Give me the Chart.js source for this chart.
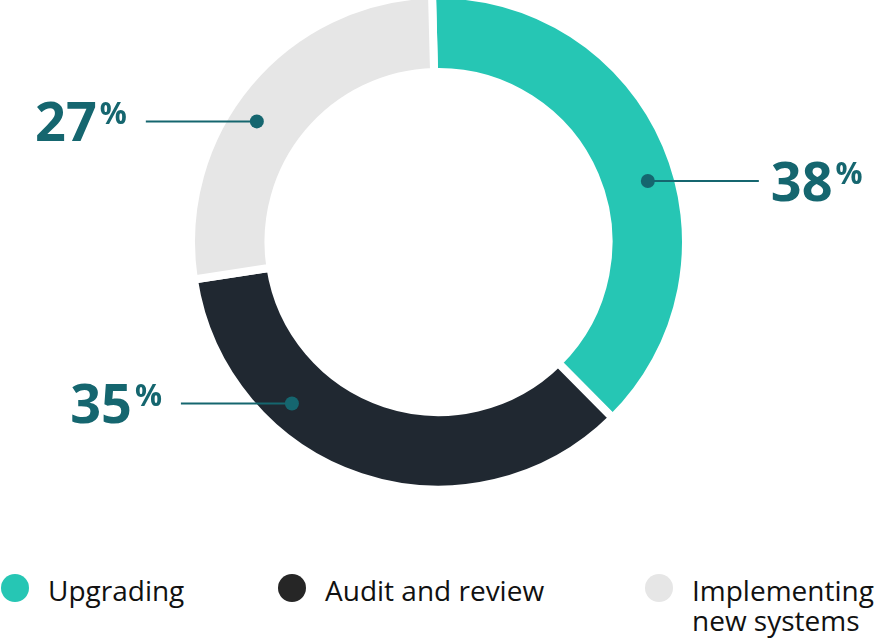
<!DOCTYPE html>
<html>
<head>
<meta charset="utf-8">
<script src="https://cdn.jsdelivr.net/npm/chart.js@4.4.1/dist/chart.umd.min.js"></script>
<style>
  html, body { margin: 0; padding: 0; background: #fff; }
  .wrap { position: relative; width: 883px; height: 640px; overflow: hidden; }
  #donut { position: absolute; left: 0; top: 0; }
  .legend-item { position: absolute; top: 575px; }
  .legend-item:nth-child(1) { left: 0; }
  .legend-item:nth-child(2) { left: 277px; }
  .legend-item:nth-child(3) { left: 644px; }
  .legend-dot { position: absolute; left: 1px; top: -1px; width: 28px; height: 28px; border-radius: 50%; }
  .legend-text { position: absolute; left: 48px; top: 0; white-space: nowrap;
    font-family: "Open Sans", sans-serif; font-size: 28px; line-height: 30px; color: #111; }
</style>
</head>
<body>
<div class="wrap">
  <canvas id="donut" width="883" height="560"></canvas>
  <div id="legend"></div>
</div>
<script>
const categories = ["Upgrading", "Audit and review", "Implementing new systems"];
const shares = [38, 35, 27];
const legendLines = [["Upgrading"], ["Audit and review"], ["Implementing", "new systems"]];

const ringColors = ["#26c6b4", "#202831", "#e6e6e6"];
const legendColors = ["#26c6b4", "#262626", "#e6e6e6"];
const labelColor = "#15666f";

// percent callouts: dot on the ring, horizontal leader line, big number
const calloutPlugin = {
  id: "callouts",
  afterDatasetsDraw(chart, args, opts) {
    const ctx = chart.ctx;
    const values = chart.data.datasets[0].data;
    chart.getDatasetMeta(0).data.forEach((arc, i) => {
      const p = arc.getProps(["x", "y", "startAngle", "endAngle", "innerRadius", "outerRadius"], true);
      const a = p.startAngle + opts.along[i] * (p.endAngle - p.startAngle);
      const r = p.innerRadius + opts.depth * (p.outerRadius - p.innerRadius);
      const dx = p.x + r * Math.cos(a);
      const dy = p.y + r * Math.sin(a);
      const dir = Math.cos(a) >= 0 ? 1 : -1;

      ctx.save();
      ctx.strokeStyle = opts.color;
      ctx.fillStyle = opts.color;
      ctx.lineWidth = 2;
      ctx.beginPath();
      ctx.moveTo(dx, dy);
      ctx.lineTo(dx + dir * opts.lineLength, dy);
      ctx.stroke();
      ctx.beginPath();
      ctx.arc(dx, dy, opts.dotRadius, 0, Math.PI * 2);
      ctx.fill();

      const num = String(values[i]);
      ctx.font = 'bold 54px "Open Sans"';
      const nw = ctx.measureText(num).width;
      ctx.font = 'bold 30px "Open Sans"';
      const pw = ctx.measureText("%").width;
      const total = nw + 3 + pw;
      const x0 = dir > 0
        ? dx + opts.lineLength + opts.gapRight
        : dx - opts.lineLength - opts.gapLeft - total;
      ctx.textAlign = "left";
      ctx.textBaseline = "alphabetic";
      ctx.font = 'bold 54px "Open Sans"';
      ctx.fillText(num, x0, dy + 20);
      ctx.font = 'bold 30px "Open Sans"';
      ctx.fillText("%", x0 + nw + 3, dy + 3);
      ctx.restore();
    });
  }
};

new Chart(document.getElementById("donut"), {
  type: "doughnut",
  data: {
    labels: categories,
    datasets: [{
      data: shares,
      backgroundColor: ringColors,
      borderColor: "#ffffff",
      borderWidth: 8,
      hoverOffset: 0
    }]
  },
  options: {
    responsive: false,
    animation: false,
    rotation: -1.5,
    radius: 247.5,
    cutout: "68.7%",
    layout: { padding: { left: 0, right: 6, top: 0, bottom: 76 } },
    events: [],
    plugins: {
      legend: { display: false },
      tooltip: { enabled: false },
      callouts: {
        along: [0.55, 0.69, 0.435],
        depth: 0.62,
        lineLength: 111,
        dotRadius: 7,
        gapRight: 12,
        gapLeft: 19,
        color: labelColor
      }
    }
  },
  plugins: [calloutPlugin]
});

// legend built from the same categories
const legendEl = document.getElementById("legend");
categories.forEach((name, i) => {
  const item = document.createElement("div");
  item.className = "legend-item";
  const dot = document.createElement("div");
  dot.className = "legend-dot";
  dot.style.background = legendColors[i];
  const text = document.createElement("div");
  text.className = "legend-text";
  text.innerHTML = legendLines[i].join("<br>");
  item.appendChild(dot);
  item.appendChild(text);
  legendEl.appendChild(item);
});
</script>
</body>
</html>
